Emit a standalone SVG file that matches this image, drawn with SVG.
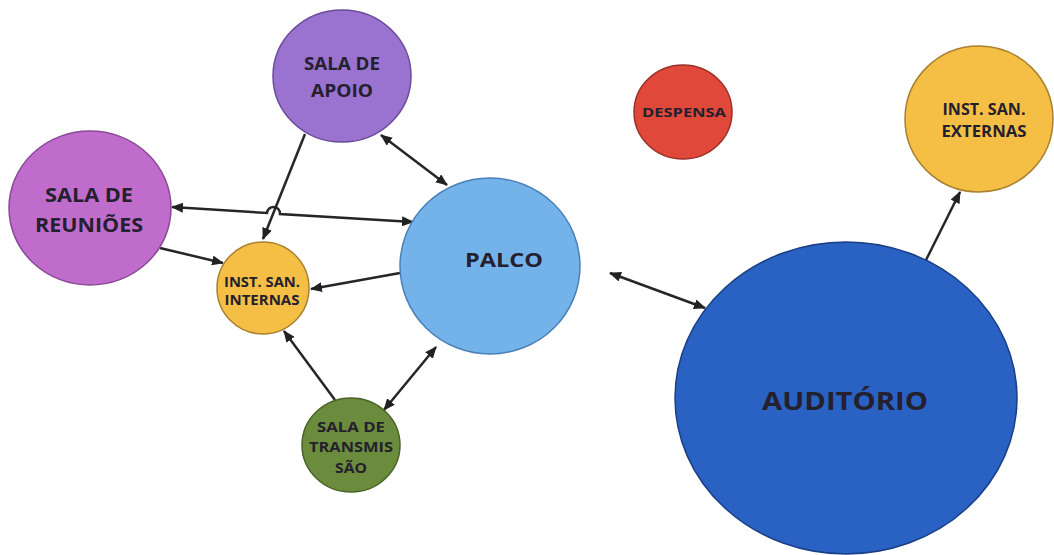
<svg xmlns="http://www.w3.org/2000/svg" width="1054" height="555" viewBox="0 0 1054 555">
<defs>
<marker id="ah" viewBox="0 0 12 10" refX="11" refY="5" markerWidth="12" markerHeight="10" markerUnits="userSpaceOnUse" orient="auto-start-reverse">
<path d="M0,0 L12,5 L0,10 z" fill="#222"/>
</marker>
<style>
.n{stroke-width:1.5}
.t{font-family:"Open Sans","Liberation Sans",sans-serif;font-weight:bold;fill:#24202e;text-anchor:middle}
.c{fill:none;stroke:#262626;stroke-width:2.5}
.one{marker-end:url(#ah)}
.two{marker-start:url(#ah);marker-end:url(#ah)}
</style>
</defs>
<rect width="1054" height="555" fill="#ffffff"/>
<g id="connectors">
<path class="c two" d="M381,135 L447,185"/>
<path class="c two" d="M172,207 L267,213 A6.5 6.5 0 0 1 280,214 L413,222"/>
<path class="c one" d="M305,134 L263,239"/>
<path class="c one" d="M160,248 L223,263"/>
<path class="c one" d="M400,273 L311,289"/>
<path class="c one" d="M335,400 L284,331"/>
<path class="c two" d="M384,410 L436,347"/>
<path class="c two" d="M610,273 L705,308"/>
<path class="c one" d="M925,262 L960,192"/>
</g>
<g id="sala-apoio">
<ellipse class="n" cx="342" cy="76" rx="69" ry="66" fill="#9a72cf" stroke="#6a4a9a"/>
<text class="t" x="342" y="70" font-size="18" textLength="76" lengthAdjust="spacingAndGlyphs">SALA DE</text>
<text class="t" x="342" y="97" font-size="18" textLength="62" lengthAdjust="spacingAndGlyphs">APOIO</text>
</g>
<g id="sala-reunioes">
<ellipse class="n" cx="90" cy="208" rx="81" ry="77" fill="#c06ccc" stroke="#8a4a96"/>
<text class="t" x="89" y="202" font-size="19" textLength="88" lengthAdjust="spacingAndGlyphs">SALA DE</text>
<text class="t" x="89" y="232" font-size="19" textLength="108" lengthAdjust="spacingAndGlyphs">REUNIÕES</text>
</g>
<g id="inst-san-internas">
<ellipse class="n" cx="263" cy="288" rx="46" ry="46" fill="#f5bf45" stroke="#a88030"/>
<text class="t" x="262" y="287" font-size="14" textLength="76" lengthAdjust="spacingAndGlyphs">INST. SAN.</text>
<text class="t" x="262" y="305" font-size="14" textLength="75" lengthAdjust="spacingAndGlyphs">INTERNAS</text>
</g>
<g id="palco">
<ellipse class="n" cx="490" cy="266" rx="90" ry="88" fill="#74b3ea" stroke="#4a80b8"/>
<text class="t" x="504" y="267" font-size="20" textLength="78" lengthAdjust="spacingAndGlyphs">PALCO</text>
</g>
<g id="sala-transmissao">
<ellipse class="n" cx="351" cy="445" rx="49" ry="47" fill="#6b8c3c" stroke="#4a6428"/>
<text class="t" x="351" y="432" font-size="15" textLength="68" lengthAdjust="spacingAndGlyphs">SALA DE</text>
<text class="t" x="351" y="452" font-size="15" textLength="84" lengthAdjust="spacingAndGlyphs">TRANSMIS</text>
<text class="t" x="351" y="473" font-size="15" textLength="32" lengthAdjust="spacingAndGlyphs">SÃO</text>
</g>
<g id="despensa">
<ellipse class="n" cx="683" cy="112" rx="49" ry="47" fill="#e0483a" stroke="#9a3028"/>
<text class="t" x="684" y="117" font-size="13" textLength="84" lengthAdjust="spacingAndGlyphs">DESPENSA</text>
</g>
<g id="inst-san-externas">
<ellipse class="n" cx="979" cy="119" rx="74" ry="73" fill="#f5bf45" stroke="#a88030"/>
<text class="t" x="984" y="115" font-size="16" textLength="83" lengthAdjust="spacingAndGlyphs">INST. SAN.</text>
<text class="t" x="984" y="137" font-size="16" textLength="85" lengthAdjust="spacingAndGlyphs">EXTERNAS</text>
</g>
<g id="auditorio">
<ellipse class="n" cx="846" cy="398" rx="171" ry="156" fill="#2a62c4" stroke="#1a3f85"/>
<text class="t" x="845" y="410" font-size="25" textLength="166" lengthAdjust="spacingAndGlyphs">AUDITÓRIO</text>
</g>
</svg>
